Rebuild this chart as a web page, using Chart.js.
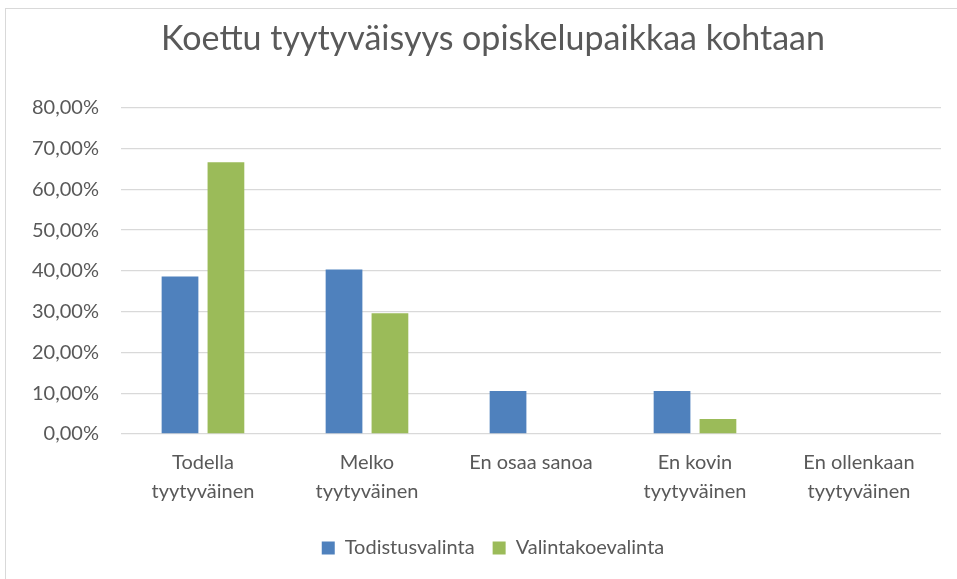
<!DOCTYPE html>
<html>
<head>
<meta charset="utf-8">
<script src="https://cdn.jsdelivr.net/npm/chart.js@4"></script>
<style>
  html, body { margin: 0; padding: 0; background: #ffffff; overflow: hidden; }
  #box { position: absolute; left: 5px; top: 8px; width: 1000px; height: 580px; border: 1px solid #d9d9d9; box-sizing: border-box; background: #fff; }
  #wrap { position: absolute; left: 0; top: 0; width: 985px; height: 570px; }
</style>
</head>
<body>
<div id="box"><div id="wrap"><canvas id="c"></canvas></div></div>
<script>
const categories = [
  ["Todella", "tyytyväinen"],
  ["Melko", "tyytyväinen"],
  "En osaa sanoa",
  ["En kovin", "tyytyväinen"],
  ["En ollenkaan", "tyytyväinen"]
];
const seriesNames = ["Todistusvalinta", "Valintakoevalinta"];
const todistusvalinta = [38.60, 40.35, 10.53, 10.53, 0];
const valintakoevalinta = [66.67, 29.63, 0, 3.70, 0];
const yTicks = [0, 10, 20, 30, 40, 50, 60, 70, 80];

const FONT = "Lato, 'Open Sans', sans-serif";
const fmt = v => v.toFixed(2).replace('.', ',') + '%';

new Chart(document.getElementById('c'), {
  type: 'bar',
  data: {
    labels: categories,
    datasets: [
      { label: seriesNames[0], data: todistusvalinta, backgroundColor: '#4F81BD', categoryPercentage: 0.56, barPercentage: 0.8 },
      { label: seriesNames[1], data: valintakoevalinta, backgroundColor: '#9BBB59', categoryPercentage: 0.56, barPercentage: 0.8 }
    ]
  },
  options: {
    responsive: true,
    maintainAspectRatio: false,
    animation: false,
    layout: { padding: { left: 4, right: 15, top: 6, bottom: 11 } },
    plugins: {
      title: {
        display: true,
        text: 'Koettu tyytyväisyys opiskelupaikkaa kohtaan',
        color: '#595959',
        font: { family: FONT, size: 34, weight: 'normal' },
        padding: { top: 4, bottom: 48 }
      },
      legend: {
        position: 'bottom',
        labels: {
          color: '#595959',
          font: { family: FONT, size: 20 },
          boxWidth: 13, boxHeight: 13,
          padding: 18
        }
      },
      tooltip: { enabled: false }
    },
    scales: {
      x: {
        grid: { display: false, drawTicks: false },
        border: { display: false },
        ticks: { color: '#595959', font: { family: FONT, size: 20, lineHeight: 1.45 }, padding: 14, maxRotation: 0, autoSkip: false }
      },
      y: {
        min: 0, max: 80,
        afterBuildTicks: axis => { axis.ticks = yTicks.map(v => ({ value: v })); },
        grid: { color: '#d9d9d9', lineWidth: 1.3, drawTicks: false },
        border: { display: false },
        ticks: { color: '#595959', font: { family: FONT, size: 20 }, padding: 22, callback: v => fmt(v) }
      },
      yRightSpace: {
        position: 'right',
        display: true,
        min: 0, max: 80,
        grid: { display: false, drawTicks: false },
        border: { display: false },
        ticks: { display: false },
        afterFit: axis => { axis.width = 35; }
      }
    }
  }
});
</script>
</body>
</html>
